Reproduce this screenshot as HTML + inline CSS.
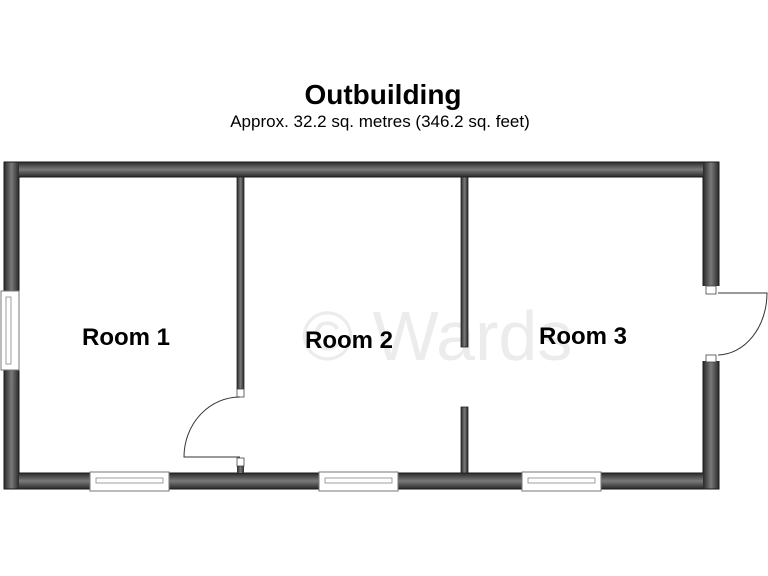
<!DOCTYPE html>
<html><head><meta charset="utf-8"><style>
html,body{margin:0;padding:0;background:#fff;}
svg{display:block;}
</style></head><body>
<svg width="768" height="576" viewBox="0 0 768 576" xmlns="http://www.w3.org/2000/svg" font-family="Liberation Sans, Arial, sans-serif">
<defs>
<linearGradient id="gv" x1="0" x2="1" y1="0" y2="0"><stop offset="0" stop-color="#2a2a2a"/><stop offset="0.5" stop-color="#7a7a7a"/><stop offset="1" stop-color="#2a2a2a"/></linearGradient>
<linearGradient id="gh" x1="0" x2="0" y1="0" y2="1"><stop offset="0" stop-color="#2a2a2a"/><stop offset="0.5" stop-color="#7a7a7a"/><stop offset="1" stop-color="#2a2a2a"/></linearGradient>
</defs>
<text x="383" y="104" text-anchor="middle" font-size="28" font-weight="bold" fill="#000">Outbuilding</text>
<text x="380" y="127" text-anchor="middle" font-size="17" fill="#000">Approx. 32.2 sq. metres (346.2 sq. feet)</text>
<text x="437" y="360" text-anchor="middle" font-size="70" fill="#ececec">© Wards</text>
<!-- outer walls -->
<rect x="4" y="162" width="715" height="15" fill="url(#gh)"/>
<rect x="4" y="473" width="715" height="16" fill="url(#gh)"/>
<rect x="4" y="162" width="15" height="327" fill="url(#gv)"/>
<rect x="703" y="162" width="16" height="124" fill="url(#gv)"/>
<rect x="703" y="361" width="16" height="128" fill="url(#gv)"/>
<g stroke="#1a1a1a" stroke-width="1" fill="none">
<path d="M719 286 V162 H4 V489 H719 V361"/>
<path d="M703 286 V177 H19 V473 H703 V361"/>
</g>
<!-- interior walls -->
<rect x="237" y="177" width="7" height="212" fill="url(#gv)" stroke="#222" stroke-width="0.8"/>
<rect x="237" y="465" width="7" height="8" fill="url(#gv)"/>
<rect x="461" y="177" width="7" height="170" fill="url(#gv)" stroke="#222" stroke-width="0.8"/>
<rect x="461" y="407" width="7" height="66" fill="url(#gv)" stroke="#222" stroke-width="0.8"/>
<!-- door 1 -->
<rect x="237" y="389" width="7" height="8" fill="#fff" stroke="#444" stroke-width="0.8"/>
<rect x="237" y="458" width="7" height="8" fill="#fff" stroke="#444" stroke-width="0.8"/>
<path d="M240 397 A56 60 0 0 0 184 457 L240 457" fill="none" stroke="#333" stroke-width="1"/>
<!-- door 3 -->
<rect x="706" y="286" width="10" height="8" fill="#fff" stroke="#444" stroke-width="0.8"/>
<rect x="706" y="355" width="10" height="7" fill="#fff" stroke="#444" stroke-width="0.8"/>
<path d="M718 293 L767 293 A50 62 0 0 1 718 355" fill="none" stroke="#333" stroke-width="1"/>
<!-- left window -->
<rect x="1" y="291" width="18" height="79" fill="#fff" stroke="#777" stroke-width="1"/>
<rect x="6" y="297" width="5" height="67" fill="none" stroke="#888" stroke-width="0.8"/>
<!-- bottom windows -->
<g fill="#fff" stroke="#777" stroke-width="1">
<rect x="90" y="472" width="79" height="19"/><rect x="96" y="478" width="67" height="5" stroke="#888" stroke-width="0.8"/>
<rect x="319" y="472" width="79" height="19"/><rect x="325" y="478" width="67" height="5" stroke="#888" stroke-width="0.8"/>
<rect x="522" y="472" width="79" height="19"/><rect x="528" y="478" width="67" height="5" stroke="#888" stroke-width="0.8"/>
</g>
<text x="126" y="345" text-anchor="middle" font-size="24" font-weight="bold" fill="#000">Room 1</text>
<text x="349" y="348" text-anchor="middle" font-size="24" font-weight="bold" fill="#000">Room 2</text>
<text x="583" y="344" text-anchor="middle" font-size="24" font-weight="bold" fill="#000">Room 3</text>
</svg>
</body></html>
